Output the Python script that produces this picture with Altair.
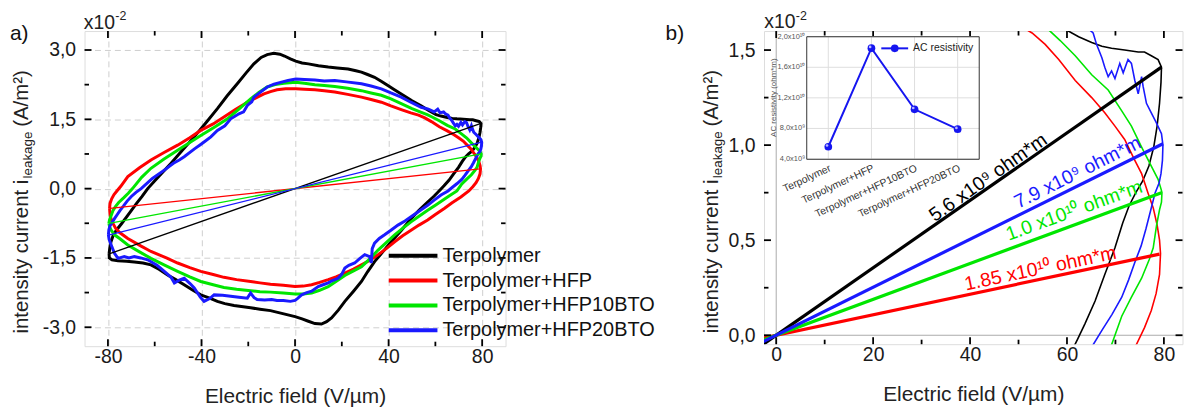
import altair as alt
import pandas as pd

FONT = "Liberation Sans"

# ---------------- data ----------------
series_names = ["Terpolymer", "Terpolymer+HFP", "Terpolymer+HFP10BTO", "Terpolymer+HFP20BTO"]
series_colors = ["#000000", "#ff0000", "#00e600", "#1a1aff"]

# hysteresis loops (E in V/um, I in 1e-2 A/m^2), traced around the loop
black_loop = [
    (-79.5, -1.41), (-79.2, -1.28), (-78.7, -1.15), (-77.8, -1.02), (-76.4, -0.90), (-74.2, -0.76),
    (-72.0, -0.61), (-69.8, -0.46), (-67.6, -0.31), (-65.4, -0.17), (-63.0, 0.00), (-58.0, 0.28),
    (-53.0, 0.55), (-48.0, 0.84), (-43.1, 1.12), (-38.0, 1.43), (-33.2, 1.73), (-29.0, 2.01),
    (-24.7, 2.27), (-21.0, 2.50), (-17.6, 2.70), (-14.5, 2.84), (-11.9, 2.90), (-9.1, 2.93),
    (-6.5, 2.91), (-4.5, 2.87), (-2.0, 2.81), (0.3, 2.76), (3.0, 2.72), (5.7, 2.70), (10.0, 2.66),
    (14.2, 2.63), (18.0, 2.61), (22.7, 2.59), (26.0, 2.55), (28.4, 2.52), (31.0, 2.47), (34.0, 2.41),
    (37.0, 2.32), (39.7, 2.23), (42.5, 2.14), (45.4, 2.05), (50.0, 1.90), (53.9, 1.79), (57.5, 1.68),
    (60.3, 1.60), (62.4, 1.57), (65.1, 1.54), (67.2, 1.52), (69.2, 1.51), (71.9, 1.50), (74.7, 1.49),
    (76.0, 1.49), (77.4, 1.47), (78.8, 1.45), (79.5, 1.41),
    (79.4, 1.33), (79.1, 1.22), (78.6, 1.10), (77.9, 0.99), (76.9, 0.89), (75.6, 0.81), (74.2, 0.75),
    (72.8, 0.68), (71.5, 0.59), (69.9, 0.46), (67.8, 0.32), (65.8, 0.18), (63.7, 0.06), (62.2, -0.02),
    (59.5, -0.16), (56.7, -0.29), (53.0, -0.47), (49.6, -0.65), (45.5, -0.90), (41.1, -1.15),
    (37.5, -1.37), (34.0, -1.58), (31.0, -1.80), (28.4, -2.01), (25.0, -2.22), (21.3, -2.44),
    (18.5, -2.63), (15.6, -2.80), (13.5, -2.88), (11.3, -2.93), (8.5, -2.92), (5.7, -2.87),
    (3.0, -2.82), (0.0, -2.77), (-4.8, -2.71), (-10.5, -2.64), (-15.0, -2.61), (-19.0, -2.58),
    (-26.1, -2.53), (-30.0, -2.49), (-33.2, -2.44), (-36.5, -2.37), (-40.3, -2.30), (-44.0, -2.19),
    (-47.4, -2.08), (-51.0, -1.97), (-54.5, -1.87), (-58.0, -1.75), (-61.6, -1.65), (-65.0, -1.61),
    (-68.7, -1.59), (-72.0, -1.57), (-75.7, -1.56), (-78.3, -1.54), (-79.4, -1.50), (-79.5, -1.41),
]

red_loop = [
    (-79.3, -0.43), (-79.1, -0.32), (-78.4, -0.22), (-77.4, -0.13), (-76.0, -0.04), (-74.5, 0.05),
    (-71.5, 0.26), (-66.5, 0.45), (-61.6, 0.62), (-56.0, 0.78), (-50.2, 0.94), (-45.0, 1.10),
    (-40.3, 1.26), (-35.0, 1.40), (-30.4, 1.55), (-25.5, 1.71), (-20.4, 1.87), (-16.5, 1.97),
    (-13.3, 2.05), (-10.5, 2.10), (-7.7, 2.14), (-4.0, 2.16), (0.3, 2.16), (4.0, 2.15), (8.5, 2.14),
    (12.5, 2.12), (17.0, 2.09), (22.5, 2.04), (28.4, 1.98), (32.5, 1.93), (36.9, 1.87), (41.0, 1.79),
    (45.4, 1.71), (49.5, 1.64), (52.8, 1.59), (55.5, 1.53), (58.3, 1.45), (61.7, 1.34), (65.1, 1.25),
    (67.8, 1.17), (69.9, 1.10), (71.9, 1.03), (74.0, 0.92), (75.4, 0.85), (76.7, 0.75), (77.8, 0.67),
    (78.6, 0.58), (79.1, 0.50), (79.3, 0.43),
    (79.1, 0.32), (78.4, 0.22), (77.4, 0.13), (76.0, 0.04), (74.3, -0.05), (70.9, -0.18), (67.0, -0.31),
    (63.8, -0.43), (60.0, -0.56), (56.7, -0.68), (53.0, -0.79), (49.6, -0.90), (46.0, -1.02),
    (42.6, -1.15), (39.0, -1.30), (35.5, -1.43), (32.0, -1.55), (28.4, -1.65), (25.0, -1.74),
    (21.3, -1.83), (17.5, -1.91), (14.2, -1.97), (10.5, -2.03), (7.1, -2.08), (3.5, -2.11), (0.0, -2.12),
    (-5.0, -2.09), (-10.5, -2.07), (-15.0, -2.04), (-19.0, -2.01), (-25.0, -1.97), (-30.4, -1.92),
    (-35.0, -1.86), (-40.3, -1.79), (-45.0, -1.71), (-50.2, -1.61), (-55.0, -1.50), (-61.6, -1.36),
    (-66.0, -1.24), (-71.5, -1.08), (-75.0, -0.95), (-76.8, -0.85), (-78.2, -0.72), (-79.0, -0.60),
    (-79.3, -0.43),
]

green_loop = [
    (-79.6, -0.75), (-79.3, -0.67), (-78.6, -0.58), (-77.8, -0.47), (-76.8, -0.39), (-75.4, -0.30),
    (-73.3, -0.20), (-71.3, -0.10), (-69.5, 0.00), (-65.5, 0.25), (-61.6, 0.44), (-56.0, 0.64),
    (-50.2, 0.83), (-45.0, 1.00), (-40.3, 1.15), (-34.5, 1.33), (-28.9, 1.51), (-24.0, 1.72),
    (-19.0, 1.94), (-15.5, 2.08), (-11.9, 2.20), (-8.5, 2.25), (-4.8, 2.28), (0.3, 2.30), (4.0, 2.28),
    (8.5, 2.25), (12.5, 2.23), (17.0, 2.21), (22.5, 2.17), (28.4, 2.12), (32.5, 2.07), (36.9, 2.02),
    (41.0, 1.94), (45.4, 1.84), (50.0, 1.73), (54.0, 1.65), (56.5, 1.60), (58.6, 1.55), (61.7, 1.47),
    (65.1, 1.37), (68.5, 1.29), (71.3, 1.18), (73.3, 1.10), (75.4, 0.99), (77.4, 0.89), (78.8, 0.82),
    (79.4, 0.77), (79.6, 0.75),
    (79.5, 0.70), (79.1, 0.66), (78.5, 0.58), (77.8, 0.46), (77.0, 0.40), (75.4, 0.30), (73.3, 0.20),
    (71.3, 0.10), (69.2, -0.05), (66.5, -0.14), (63.8, -0.23), (60.0, -0.36), (56.7, -0.47),
    (53.0, -0.60), (49.6, -0.72), (46.0, -0.86), (42.6, -1.00), (39.0, -1.17), (35.5, -1.33),
    (32.0, -1.52), (28.4, -1.69), (25.0, -1.78), (21.3, -1.88), (17.5, -2.01), (14.2, -2.12),
    (10.5, -2.20), (7.1, -2.26), (3.5, -2.28), (0.0, -2.28), (-5.0, -2.26), (-10.5, -2.24),
    (-15.0, -2.23), (-19.0, -2.21), (-25.0, -2.18), (-30.4, -2.14), (-35.0, -2.08), (-40.3, -2.01),
    (-45.0, -1.91), (-50.2, -1.79), (-56.0, -1.65), (-61.6, -1.51), (-66.5, -1.37), (-71.5, -1.22),
    (-75.0, -1.08), (-77.2, -1.00), (-78.7, -0.89), (-79.3, -0.82), (-79.6, -0.75),
]

blue_loop = [
    (-79.8, -1.00), (-79.6, -0.89), (-79.1, -0.80), (-78.2, -0.73), (-77.2, -0.65), (-76.0, -0.56),
    (-74.8, -0.47), (-73.4, -0.38), (-71.8, -0.27), (-70.0, -0.17), (-68.0, -0.08), (-65.8, 0.00),
    (-61.0, 0.22), (-55.9, 0.40), (-52.0, 0.55), (-49.5, 0.62), (-47.4, 0.69), (-43.0, 0.86),
    (-40.5, 0.95), (-38.9, 1.01), (-36.0, 1.12), (-33.2, 1.26), (-30.0, 1.36), (-27.5, 1.51),
    (-24.0, 1.62), (-22.0, 1.66), (-20.4, 1.80), (-18.5, 1.88), (-17.6, 1.98), (-14.5, 2.10),
    (-11.9, 2.20), (-9.0, 2.26), (-6.2, 2.30), (-3.0, 2.34), (0.3, 2.37), (4.0, 2.36), (8.5, 2.35),
    (12.5, 2.33), (17.0, 2.34), (22.0, 2.31), (28.4, 2.27), (32.5, 2.22), (36.9, 2.16), (41.0, 2.07),
    (45.4, 1.98), (49.5, 1.87), (53.9, 1.76), (57.0, 1.72), (59.5, 1.66), (61.0, 1.72), (62.0, 1.64),
    (63.5, 1.66), (64.5, 1.61), (65.4, 1.59), (66.1, 1.53), (67.2, 1.46), (67.8, 1.41), (68.5, 1.36),
    (69.2, 1.39), (69.9, 1.35), (70.9, 1.43), (71.6, 1.38), (72.6, 1.45), (73.3, 1.43), (74.0, 1.34),
    (74.7, 1.27), (75.4, 1.36), (75.7, 1.31), (76.4, 1.22), (77.4, 1.17), (78.4, 1.12), (79.5, 1.06),
    (79.8, 1.00),
    (79.7, 0.92), (79.4, 0.85), (79.0, 0.80), (78.2, 0.75), (77.3, 0.66), (76.3, 0.56), (75.3, 0.47),
    (74.1, 0.39), (72.7, 0.29), (71.3, 0.20), (69.3, 0.11), (67.3, 0.03), (65.4, -0.05), (62.4, -0.14),
    (59.5, -0.25), (56.7, -0.36), (53.0, -0.49), (49.6, -0.61), (47.0, -0.70), (44.0, -0.79),
    (41.0, -0.90), (38.3, -1.00), (36.0, -1.08), (34.0, -1.18), (33.0, -1.30), (32.6, -1.61),
    (31.9, -1.47), (29.8, -1.43), (27.5, -1.52), (25.5, -1.61), (23.0, -1.66), (21.3, -1.72),
    (20.0, -1.85), (18.4, -1.94), (16.0, -1.99), (14.2, -2.04), (12.0, -2.08), (9.9, -2.12),
    (7.1, -2.22), (5.0, -2.25), (2.8, -2.30), (1.0, -2.38), (0.0, -2.42), (-2.0, -2.44), (-5.0, -2.42),
    (-7.7, -2.42), (-10.0, -2.40), (-13.0, -2.41), (-16.2, -2.40), (-17.5, -2.36), (-19.0, -2.26),
    (-20.4, -2.37), (-24.0, -2.35), (-27.5, -2.33), (-31.0, -2.31), (-34.6, -2.30), (-36.5, -2.38),
    (-38.9, -2.44), (-40.5, -2.35), (-43.1, -2.15), (-45.0, -2.05), (-47.4, -1.94), (-49.5, -1.98),
    (-51.6, -2.04), (-53.0, -1.92), (-55.9, -1.79), (-59.0, -1.66), (-63.0, -1.54), (-66.0, -1.50),
    (-68.7, -1.47), (-71.0, -1.50), (-73.0, -1.47), (-75.7, -1.51), (-77.2, -1.40), (-78.6, -1.22),
    (-79.5, -1.10), (-79.8, -1.00),
]

# ohmic fit lines: end point (E, I) of each straight line through the origin
fit_E = [79.5, 79.1, 79.5, 79.8]
fit_I = [1.41, 0.427, 0.75, 1.007]

# axis ticks
xa_major = [-80, -40, 0, 40, 80]
xa_minor = [-60, -20, 20, 60]
ya_major = [-3.0, -1.5, 0.0, 1.5, 3.0]
ya_minor = [-2.25, -0.75, 0.75, 2.25]
xb_major = [0, 20, 40, 60, 80]
xb_minor = [10, 30, 50, 70]
yb_major = [0.0, 0.5, 1.0, 1.5]
yb_minor = [0.25, 0.75, 1.25]

# inset: AC resistivity
inset_cats = ["Terpolymer", "Terpolymer+HFP", "Terpolymer+HFP10BTO", "Terpolymer+HFP20BTO"]
inset_rho = [5.6e9, 1.85e10, 1.05e10, 7.9e9]
inset_ticks = [4.0e9, 8.0e9, 1.2e10, 1.6e10, 2.0e10]
inset_tick_labels = ["4,0x10⁹", "8,0x10⁹", "1,2x10¹⁰", "1,6x10¹⁰", "2,0x10¹⁰"]

annot_texts = ["5.6 x10⁹ ohm*m", "7.9 x10⁹ ohm*m", "1.0 x10¹⁰ ohm*m", "1.85 x10¹⁰ ohm*m"]

# ---------------- tables ----------------
rows = []
for name, loop in zip(series_names, [black_loop, red_loop, green_loop, blue_loop]):
    for k, (e, i) in enumerate(loop):
        rows.append({"series": name, "E": e, "I": i, "k": k})
loops = pd.DataFrame(rows)

frows = []
for name, e, i in zip(series_names, fit_E, fit_I):
    frows.append({"series": name, "E": -e, "I": -i, "k": 0})
    frows.append({"series": name, "E": e, "I": i, "k": 1})
fits = pd.DataFrame(frows)

inset_df = pd.DataFrame({"cat": inset_cats, "rho": inset_rho})

cscale = alt.Scale(domain=series_names, range=series_colors)
color_enc = alt.Color("series:N", scale=cscale, legend=None)

lab_int = "(datum.value < 0 ? '-' : '') + format(abs(datum.value), 'd')"
lab_dec = "(datum.value < 0 ? '-' : '') + replace(format(abs(datum.value), '.1f'), '.', ',')"

common_axis = dict(ticks=False, tickSize=0, domain=False, labelFontSize=19.5, labelFont=FONT,
                   labelColor="#1a1a1a", labelOverlap=False)
title_style = dict(titleFontSize=21, titleFont=FONT, titleFontWeight="normal", titleColor="#222222")


def text_mark(text, x, y, size, color="#222222", angle=0, align="left", baseline="alphabetic"):
    kw = dict(align=align, baseline=baseline, fontSize=size, color=color, font=FONT)
    if angle:
        kw["angle"] = angle
    return alt.Chart(pd.DataFrame({"t": [text]})).mark_text(**kw).encode(
        x=alt.value(x), y=alt.value(y), text="t:N")


def inward_ticks(X, Y, xmaj, xmin, ymaj, ymin, W, H, lmaj=7, lmin=4.5):
    out = []
    for vals, L in ((xmaj, lmaj), (xmin, lmin)):
        d = pd.DataFrame({"E": vals})
        out.append(alt.Chart(d).mark_rule(color="black", strokeWidth=1.8).encode(
            x=X, y=alt.value(H), y2=alt.value(H - L)))
        out.append(alt.Chart(d).mark_rule(color="black", strokeWidth=1.8).encode(
            x=X, y=alt.value(0), y2=alt.value(L)))
    for vals, L in ((ymaj, lmaj), (ymin, lmin)):
        d = pd.DataFrame({"I": vals})
        out.append(alt.Chart(d).mark_rule(color="black", strokeWidth=1.8).encode(
            y=Y, x=alt.value(0), x2=alt.value(L)))
        out.append(alt.Chart(d).mark_rule(color="black", strokeWidth=1.8).encode(
            y=Y, x=alt.value(W), x2=alt.value(W - L)))
    return out


def ytitle(bx, y0):
    return [
        text_mark("intensity current i", bx, y0, 20.5, angle=270),
        text_mark("leakage", bx + 4, y0 - 156, 13.5, angle=270),
        text_mark("(A/m²)", bx, y0 - 208, 20.5, angle=270),
    ]


# ---------------- panel a ----------------
WA, HA = 423.5, 317
xa_scale = alt.Scale(domain=[-90, 90], nice=False, zero=False)
ya_scale = alt.Scale(domain=[-3.41, 3.41], nice=False, zero=False)
ax_xa = alt.Axis(values=xa_major, grid=True, gridDash=[6, 4], gridColor="#cfcfcf", labelExpr=lab_int,
                 labelPadding=1, title="Electric field (V/µm)", titlePadding=20, **common_axis, **title_style)
ax_ya = alt.Axis(values=ya_major, grid=True, gridDash=[6, 4], gridColor="#cfcfcf", labelExpr=lab_dec,
                 labelPadding=9, title=None, **common_axis)
XA = alt.X("E:Q", scale=xa_scale, axis=ax_xa)
YA = alt.Y("I:Q", scale=ya_scale, axis=ax_ya)

pa_layers = [
    alt.Chart(loops).mark_line(strokeWidth=3, clip=True).encode(x=XA, y=YA, color=color_enc, order="k:Q"),
    alt.Chart(fits).mark_line(strokeWidth=1.3, clip=True).encode(x=XA, y=YA, color=color_enc, order="k:Q"),
]
pa_layers += inward_ticks(XA, YA, xa_major, xa_minor, ya_major, ya_minor, WA, HA)
for k, (name, col) in enumerate(zip(series_names, series_colors)):
    yy = 226 + 25 * k
    pa_layers.append(alt.Chart(pd.DataFrame({"t": [name]})).mark_rule(color=col, strokeWidth=4).encode(
        x=alt.value(306), x2=alt.value(355), y=alt.value(yy)))
    pa_layers.append(text_mark(name, 360, yy, 20, color="#111111", baseline="middle"))
pa_layers += ytitle(-56.6, 304.3)
pa_layers += [
    text_mark("a)", -75, 9, 21, color="#111111"),
    text_mark("x10", -0.7, -2.3, 19.5),
    text_mark("-2", 31, -11, 12.5),
]
pa = alt.layer(*pa_layers).properties(width=WA, height=HA)

# ---------------- panel b ----------------
WB, HB = 421, 315
xb_scale = alt.Scale(domain=[-2.52, 83.84], nice=False, zero=False)
yb_scale = alt.Scale(domain=[-0.047, 1.6], nice=False, zero=False)
ax_xb = alt.Axis(values=xb_major, grid=False, labelExpr=lab_int, labelPadding=1,
                 title="Electric field (V/µm)", titlePadding=20, **common_axis, **title_style)
ax_yb = alt.Axis(values=yb_major, grid=False, labelExpr=lab_dec, labelPadding=9, title=None, **common_axis)
XB = alt.X("E:Q", scale=xb_scale, axis=ax_xb)
YB = alt.Y("I:Q", scale=yb_scale, axis=ax_yb)

main_layers = [
    alt.Chart(pd.DataFrame({"E": [0]})).mark_rule(color="#aaaaaa", strokeWidth=1).encode(x=XB),
    alt.Chart(pd.DataFrame({"I": [0.0]})).mark_rule(color="#aaaaaa", strokeWidth=1).encode(y=YB),
    alt.Chart(loops).mark_line(strokeWidth=1.6, clip=True).encode(x=XB, y=YB, color=color_enc, order="k:Q"),
    alt.Chart(fits).mark_line(strokeWidth=3.2, clip=True).encode(x=XB, y=YB, color=color_enc, order="k:Q"),
]
main_layers += inward_ticks(XB, YB, xb_major, xb_minor, yb_major, yb_minor, WB, HB)
annot_style = [
    (225.5, 147.4, 325, "#000000"),
    (315.5, 142.4, 333.5, "#1a1aff"),
    (312.0, 180.7, 340, "#00e600"),
    (278.0, 239.0, 348, "#ff0000"),
]
for txt, (ax, ay, ang, col) in zip(annot_texts, annot_style):
    main_layers.append(text_mark(txt, ax, ay, 19.5, color=col, angle=ang, align="center", baseline="middle"))
main_layers += ytitle(-46.3, 304)
main_layers += [
    text_mark("b)", -99, 9, 21, color="#111111"),
    text_mark("x10", 0.3, -3, 19.5),
    text_mark("-2", 32, -11.5, 12.5),
]
main = alt.layer(*main_layers)

# inset
XI = alt.X("cat:N", scale=alt.Scale(type="point", domain=inset_cats, range=[43, 216.5], padding=0.5), axis=None)
YI = alt.Y("rho:Q", scale=alt.Scale(domain=[4.0e9, 2.0e10], range=[128.7, 5.7], nice=False, zero=False), axis=None)
one = pd.DataFrame({"t": [0]})
inset_blue = "#1515f0"
inset_layers = [
    alt.Chart(one).mark_rect(fill="white").encode(
        x=alt.value(43), x2=alt.value(216.5), y=alt.value(5.7), y2=alt.value(129)),
    alt.Chart(pd.DataFrame({"cat": inset_cats})).mark_rule(color="#dedede", strokeWidth=1).encode(
        x=XI, y=alt.value(5.7), y2=alt.value(129)),
    alt.Chart(pd.DataFrame({"rho": inset_ticks})).mark_rule(color="#dedede", strokeWidth=1).encode(
        y=YI, x=alt.value(43), x2=alt.value(216.5)),
    alt.Chart(one).mark_rect(fillOpacity=0, stroke="#333333", strokeWidth=1).encode(
        x=alt.value(43), x2=alt.value(216.5), y=alt.value(5.7), y2=alt.value(129)),
    alt.Chart(inset_df).mark_line(color=inset_blue, strokeWidth=2).encode(x=XI, y=YI),
    alt.Chart(inset_df).mark_point(filled=True, size=60, color=inset_blue, opacity=1).encode(x=XI, y=YI),
    alt.Chart(inset_df).mark_point(filled=True, size=7, color="#b8b8ff", opacity=1,
                                   xOffset=-1.3, yOffset=-1.3).encode(x=XI, y=YI),
    alt.Chart(pd.DataFrame({"rho": inset_ticks, "lab": inset_tick_labels})).mark_text(
        align="right", baseline="middle", fontSize=7.5, color="#555555", font=FONT).encode(
        x=alt.value(41.5), y=YI, text="lab:N"),
    alt.Chart(pd.DataFrame({"cat": inset_cats})).mark_text(
        align="right", baseline="top", fontSize=10.5, color="#333333", font=FONT, angle=335).encode(
        x=XI, y=alt.value(133), text="cat:N"),
    text_mark("AC resistivity (ohm*m)", 12, 67, 8, color="#555555", angle=270, align="center"),
    alt.Chart(one).mark_rule(color=inset_blue, strokeWidth=2).encode(
        x=alt.value(118), x2=alt.value(145), y=alt.value(17.4)),
    alt.Chart(one).mark_point(filled=True, size=60, color=inset_blue, opacity=1).encode(
        x=alt.value(131.5), y=alt.value(17.4)),
    text_mark("AC resistivity", 150, 17.4, 10.5, color="#222222", baseline="middle"),
]
inset = alt.layer(*inset_layers)

pb = alt.layer(main, inset).resolve_scale(x="independent", y="independent").properties(width=WB, height=HB)

chart = alt.hconcat(pa, pb, spacing=259.5, bounds="flush").properties(
    padding={"left": 1, "top": 0, "right": 0, "bottom": 0}
).configure_view(stroke="black", strokeWidth=2.5).configure(font=FONT)

chart.save("out.html", embed_options={"renderer": "svg", "actions": False})
